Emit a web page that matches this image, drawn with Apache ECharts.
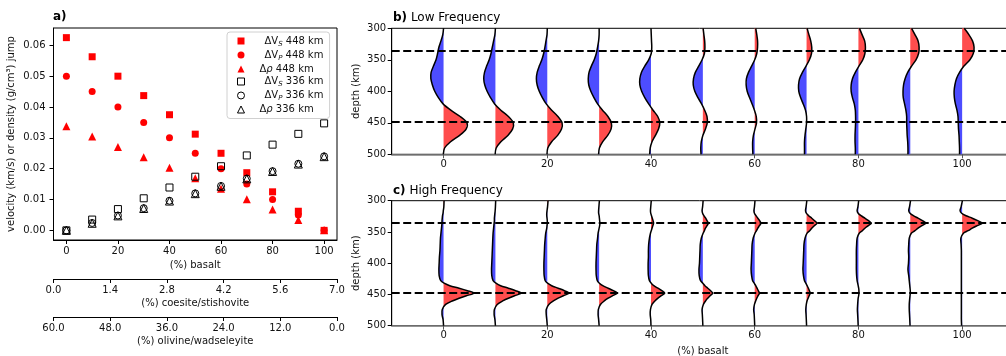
<!DOCTYPE html>
<html>
<head>
<meta charset="utf-8">
<script src="https://cdn.jsdelivr.net/npm/echarts@6/dist/echarts.min.js"></script>
<style>
  html, body { margin: 0; padding: 0; background: #fff; }
  #chart { width: 1006px; height: 356px; }
</style>
</head>
<body>
<div id="chart"></div>
<script>
// panel a: jumps vs basalt fraction
const basalt = [0, 10, 20, 30, 40, 50, 60, 70, 80, 90, 100];
const dVs448 = [0.0625, 0.0563, 0.05, 0.0437, 0.0375, 0.0312, 0.025, 0.0187, 0.0125, 0.0062, 0];
const dVp448 = [0.05, 0.045, 0.04, 0.035, 0.03, 0.025, 0.02, 0.015, 0.01, 0.005, 0];
const dRho448 = [0.0338, 0.0304, 0.027, 0.0237, 0.0203, 0.0169, 0.0135, 0.0101, 0.0068, 0.0034, 0];
const dVs336 = [0, 0.0035, 0.0069, 0.0104, 0.0139, 0.0174, 0.0208, 0.0243, 0.0278, 0.0313, 0.0347];
const dVp336 = [0, 0.0024, 0.0048, 0.0072, 0.0096, 0.012, 0.0144, 0.0168, 0.0192, 0.0216, 0.024];
const dRho336 = [0, 0.0023, 0.0047, 0.0071, 0.0095, 0.0119, 0.0143, 0.0167, 0.0191, 0.0215, 0.0239];

const basaltTicks = [0, 20, 40, 60, 80, 100];
const jumpTicks = [0, 0.01, 0.02, 0.03, 0.04, 0.05, 0.06];

// panels b/c: wiggle traces, amplitude (in % basalt units) at each depth
const lowDepth = [300, 310, 320, 330, 340, 350, 360, 370, 380, 390, 400,
  410, 420, 430, 440, 450, 460, 470, 480, 490, 500];
const lowTraces = [
  [0, -0.15, -0.5, -0.9, -1.15, -1.45, -1.95, -2.4, -2.45, -2.15, -1.7, -1.0, -0.1, 1.4, 3.2, 4.5, 4.35, 3.1, 1.35, 0.2, -0.05],
  [0, -0.1, -0.35, -0.6, -0.85, -1.2, -1.7, -2.1, -2.25, -2.05, -1.6, -0.95, -0.15, 1.05, 2.5, 3.45, 3.3, 2.4, 1.05, 0.15, -0.05],
  [0, -0.05, -0.25, -0.45, -0.7, -1.05, -1.55, -1.95, -2.1, -1.95, -1.55, -0.95, -0.2, 0.85, 2.05, 2.85, 2.75, 2.0, 0.85, 0.1, -0.05],
  [0, 0, -0.1, -0.3, -0.55, -0.95, -1.5, -1.95, -2.1, -2.0, -1.6, -1.0, -0.3, 0.65, 1.7, 2.35, 2.3, 1.65, 0.7, 0.05, -0.1],
  [0, 0.05, 0.1, 0.15, 0.05, -0.45, -1.2, -1.85, -2.15, -2.15, -1.8, -1.2, -0.45, 0.4, 1.3, 1.7, 1.45, 0.85, 0.2, -0.15, -0.25],
  [0.05, 0.2, 0.35, 0.4, 0.3, -0.15, -0.8, -1.45, -1.8, -1.85, -1.55, -0.95, -0.25, 0.35, 0.8, 0.85, 0.5, 0.0, -0.3, -0.4, -0.35],
  [0.2, 0.4, 0.55, 0.55, 0.4, 0.0, -0.6, -1.2, -1.6, -1.65, -1.45, -1.0, -0.5, -0.05, 0.3, 0.35, 0.05, -0.25, -0.4, -0.4, -0.35],
  [0.1, 0.45, 0.8, 1.0, 0.95, 0.55, -0.1, -0.8, -1.35, -1.55, -1.5, -1.15, -0.65, -0.2, 0.0, 0.0, -0.15, -0.3, -0.4, -0.4, -0.4],
  [0.2, 0.7, 1.2, 1.35, 1.25, 0.85, 0.1, -0.6, -1.15, -1.4, -1.4, -1.15, -0.8, -0.6, -0.55, -0.55, -0.6, -0.65, -0.65, -0.6, -0.6],
  [0.25, 0.9, 1.5, 1.7, 1.6, 1.1, 0.25, -0.5, -1.0, -1.3, -1.4, -1.35, -1.1, -0.85, -0.7, -0.7, -0.65, -0.6, -0.5, -0.45, -0.45],
  [0.4, 1.3, 2.0, 2.3, 2.15, 1.5, 0.35, -0.5, -1.1, -1.4, -1.55, -1.5, -1.3, -1.0, -0.8, -0.75, -0.7, -0.6, -0.55, -0.5, -0.5]
];

const highDepth = [300, 310, 316, 320, 324, 328, 332, 336, 340, 344, 348, 352,
  360, 370, 380, 390, 400, 410, 420, 428, 432, 436, 440, 444, 448, 452, 456,
  460, 466, 474, 482, 490, 500];
const highTraces = [
  [0.1, 0.05, -0.05, -0.1, -0.2, -0.25, -0.3, -0.3, -0.35, -0.4, -0.45, -0.5, -0.6, -0.65, -0.7, -0.8, -0.85, -0.9, -0.85, -0.55, 0.1, 1.2, 3.0, 4.6, 5.9, 4.4, 3.0, 1.8, 0.4, -0.25, -0.3, -0.1, 0],
  [0.05, 0, -0.05, -0.1, -0.15, -0.2, -0.2, -0.25, -0.3, -0.35, -0.4, -0.45, -0.5, -0.55, -0.6, -0.65, -0.7, -0.75, -0.7, -0.45, 0.1, 1.0, 2.5, 3.9, 5.0, 3.7, 2.5, 1.5, 0.35, -0.2, -0.25, -0.1, 0],
  [0.15, 0.05, -0.05, -0.1, -0.1, -0.05, 0, 0, -0.05, -0.1, -0.2, -0.3, -0.4, -0.5, -0.55, -0.6, -0.65, -0.65, -0.6, -0.4, 0.05, 0.85, 2.1, 3.3, 4.2, 3.1, 2.1, 1.25, 0.3, -0.2, -0.2, -0.1, 0],
  [0.05, -0.05, -0.1, -0.1, 0, 0.05, 0.1, 0.15, 0.1, 0, -0.1, -0.2, -0.3, -0.45, -0.5, -0.55, -0.6, -0.6, -0.55, -0.35, 0.05, 0.7, 1.75, 2.75, 3.5, 2.6, 1.75, 1.05, 0.25, -0.15, -0.2, -0.1, 0],
  [0.05, -0.05, -0.1, -0.05, 0.1, 0.25, 0.4, 0.5, 0.35, 0.2, 0.05, -0.1, -0.3, -0.45, -0.5, -0.5, -0.55, -0.55, -0.5, -0.3, 0.05, 0.55, 1.35, 2.1, 2.65, 2.0, 1.35, 0.8, 0.2, -0.1, -0.15, -0.05, 0],
  [0.05, -0.05, -0.15, -0.05, 0.2, 0.55, 0.8, 1.05, 0.8, 0.5, 0.3, 0.05, -0.3, -0.5, -0.55, -0.6, -0.65, -0.75, -0.7, -0.45, 0, 0.4, 0.95, 1.5, 1.9, 1.4, 0.95, 0.55, 0.1, -0.15, -0.1, -0.05, 0],
  [0.05, -0.05, -0.15, -0.05, 0.25, 0.6, 0.95, 1.2, 0.9, 0.6, 0.35, 0.05, -0.3, -0.5, -0.55, -0.6, -0.65, -0.7, -0.6, -0.4, -0.1, 0.2, 0.45, 0.7, 0.9, 0.65, 0.4, 0.2, -0.05, -0.2, -0.1, -0.05, 0],
  [0.05, -0.1, -0.2, -0.05, 0.4, 1.0, 1.55, 2.0, 1.5, 1.0, 0.6, 0.1, -0.3, -0.5, -0.55, -0.6, -0.65, -0.7, -0.6, -0.4, -0.15, 0.1, 0.35, 0.55, 0.7, 0.5, 0.3, 0.1, -0.05, -0.15, -0.1, -0.05, 0],
  [0.05, -0.1, -0.25, -0.05, 0.5, 1.25, 1.95, 2.5, 1.9, 1.25, 0.75, 0.15, -0.25, -0.35, -0.4, -0.4, -0.4, -0.4, -0.35, -0.25, -0.15, -0.05, 0.05, 0.1, 0.1, 0.05, -0.05, -0.1, -0.15, -0.2, -0.15, -0.1, -0.05],
  [0.05, -0.15, -0.3, -0.05, 0.6, 1.5, 2.35, 3.0, 2.25, 1.5, 0.9, 0.2, -0.2, -0.3, -0.35, -0.3, -0.35, -0.45, -0.3, -0.2, -0.15, -0.1, -0.05, 0, 0, -0.05, -0.1, -0.15, -0.2, -0.2, -0.15, -0.1, -0.05],
  [0.05, -0.2, -0.4, -0.1, 0.75, 1.95, 3.0, 3.9, 2.9, 1.95, 1.15, 0.25, -0.25, -0.2, -0.15, -0.15, -0.15, -0.15, -0.15, -0.15, -0.15, -0.15, -0.15, -0.15, -0.15, -0.15, -0.15, -0.15, -0.15, -0.15, -0.15, -0.15, -0.1]
];
const discontinuities = [336, 448];

const FONT = "DejaVu Sans";
const RED = "#ff0000";
const FILL_POS = "#ff4d4d";
const FILL_NEG = "#4d4dff";

const legendLabels = {
  "dVs448": "{p1|ΔV}{sub|S}{t| 448 km}",
  "dVp448": "{p1|ΔV}{sub|P}{t| 448 km}",
  "dRho448": "{p2|Δ}{it|ρ}{t| 448 km}",
  "dVs336": "{p1|ΔV}{sub|S}{t| 336 km}",
  "dVp336": "{p1|ΔV}{sub|P}{t| 336 km}",
  "dRho336": "{p2|Δ}{it|ρ}{t| 336 km}",
};

const chart = echarts.init(document.getElementById("chart"), null, { renderer: "canvas" });

function pairs(ys) {
  return basalt.map((x, i) => [x, ys[i]]);
}

// wiggle trace: black line, red fill right of baseline, blue fill left
function traceRenderer(depths, traces) {
  return function (params, api) {
    const x0 = api.value(0);
    const amps = traces[api.value(1)];
    const line = [], pos = [], neg = [];
    for (let k = 0; k < depths.length; k++) {
      const a = amps[k];
      if (k > 0) {
        const ap = amps[k - 1];
        if ((ap > 0 && a < 0) || (ap < 0 && a > 0)) {
          const dc = depths[k - 1] + (depths[k] - depths[k - 1]) * ap / (ap - a);
          const c = api.coord([x0, dc]);
          pos.push(c);
          neg.push(c);
        }
      }
      line.push(api.coord([x0 + a, depths[k]]));
      pos.push(api.coord([x0 + Math.max(a, 0), depths[k]]));
      neg.push(api.coord([x0 + Math.min(a, 0), depths[k]]));
    }
    const bottom = api.coord([x0, depths[depths.length - 1]]);
    const top = api.coord([x0, depths[0]]);
    return {
      type: "group",
      children: [
        { type: "polygon", shape: { points: pos.concat([bottom, top]) }, style: { fill: FILL_POS } },
        { type: "polygon", shape: { points: neg.concat([bottom, top]) }, style: { fill: FILL_NEG } },
        { type: "polyline", shape: { points: line, smooth: 0.3 }, style: { stroke: "#000", lineWidth: 1.5, fill: null } },
      ],
    };
  };
}

const baseAxis = {
  axisLine: { show: true, onZero: false, lineStyle: { color: "#000", width: 1 } },
  axisTick: { show: true, length: 4, lineStyle: { color: "#000" } },
  axisLabel: { color: "#111", fontSize: 10, fontFamily: FONT },
  splitLine: { show: false },
  nameTextStyle: { color: "#111", fontSize: 10, fontFamily: FONT },
  nameLocation: "middle",
  nameMoveOverlap: false,
};

function axis(extra) {
  return Object.assign({}, baseAxis, extra, {
    axisLine: Object.assign({}, baseAxis.axisLine, extra.axisLine || {}),
    axisTick: Object.assign({}, baseAxis.axisTick, extra.axisTick || {}),
    axisLabel: Object.assign({}, baseAxis.axisLabel, extra.axisLabel || {}),
  });
}

const titleRich = {
  b: { fontWeight: "bold", fontSize: 12, color: "#000", fontFamily: FONT },
  n: { fontWeight: "normal", fontSize: 12, color: "#000", fontFamily: FONT },
};

const option = {
  animation: false,
  backgroundColor: "#fff",
  textStyle: { fontFamily: FONT },

  title: [
    { text: "{b|a)}", left: 53, top: 11, padding: 0, textStyle: { rich: titleRich } },
    { text: "{b|b)}{n| Low Frequency}", left: 393, top: 12, padding: 0, textStyle: { rich: titleRich } },
    { text: "{b|c)}{n| High Frequency}", left: 393, top: 185, padding: 0, textStyle: { rich: titleRich } },
  ],

  legend: {
    orient: "vertical",
    align: "left",
    left: 227,
    top: 32,
    padding: [4, 6, 4, 10],
    itemGap: 2.5,
    itemWidth: 7,
    itemHeight: 7,
    selectedMode: false,
    backgroundColor: "rgba(255,255,255,0.8)",
    borderColor: "#d0d0d0",
    borderWidth: 1,
    borderRadius: 3,
    itemStyle: { borderWidth: 1 },
    data: Object.keys(legendLabels),
    formatter: (name) => legendLabels[name],
    textStyle: {
      color: "#111",
      fontSize: 10,
      fontFamily: FONT,
      rich: {
        p1: { fontSize: 10, color: "#111", padding: [0, 0, 0, 15], lineHeight: 13 },
        p2: { fontSize: 10, color: "#111", padding: [0, 0, 0, 10], lineHeight: 13 },
        t: { fontSize: 10, color: "#111", lineHeight: 13 },
        it: { fontSize: 10, color: "#111", fontStyle: "italic", lineHeight: 13 },
        sub: { fontSize: 7, color: "#111", fontStyle: "italic", verticalAlign: "bottom", lineHeight: 9 },
      },
    },
  },

  grid: [
    { left: 53.5, right: 669, top: 28, bottom: 116, show: true, borderColor: "#000", borderWidth: 1,
      containLabel: false, outerBoundsMode: "none" },
    { left: 391.7, right: -8, top: 28.3, bottom: 201.7, show: true, borderColor: "#000", borderWidth: 1,
      containLabel: false, outerBoundsMode: "none" },
    { left: 391.7, right: -8, top: 200.7, bottom: 30.3, show: true, borderColor: "#000", borderWidth: 1,
      containLabel: false, outerBoundsMode: "none" },
  ],

  xAxis: [
    axis({ gridIndex: 0, type: "value", position: "bottom", min: -5, max: 105,
      name: "(%) basalt", nameGap: 20,
      axisTick: { customValues: basaltTicks },
      axisLabel: { customValues: basaltTicks, margin: 6 } }),
    axis({ gridIndex: 0, type: "value", position: "bottom", offset: 39, min: 0, max: 7, interval: 1.4,
      name: "(%) coesite/stishovite", nameGap: 19,
      axisLabel: { margin: 6, formatter: (v) => v.toFixed(1) } }),
    axis({ gridIndex: 0, type: "value", position: "bottom", offset: 77, min: 0, max: 60, interval: 12,
      inverse: true, name: "(%) olivine/wadseleyite", nameGap: 19,
      axisLabel: { margin: 6, formatter: (v) => v.toFixed(1) } }),
    axis({ gridIndex: 1, type: "value", position: "bottom", min: -10, max: 110,
      axisLine: { lineStyle: { color: "#808080", width: 1.5 } },
      axisTick: { customValues: basaltTicks, lineStyle: { color: "#555" } },
      axisLabel: { customValues: basaltTicks, margin: 5 } }),
    axis({ gridIndex: 2, type: "value", position: "bottom", min: -10, max: 110,
      name: "(%) basalt", nameGap: 21,
      axisLine: { lineStyle: { color: "#808080", width: 1.5 } },
      axisTick: { customValues: basaltTicks, lineStyle: { color: "#555" } },
      axisLabel: { customValues: basaltTicks, margin: 4.5 } }),
  ],

  yAxis: [
    axis({ gridIndex: 0, type: "value", min: -0.003125, max: 0.065625,
      name: "velocity (km/s) or density (g/cm³) jump", nameGap: 37,
      axisTick: { customValues: jumpTicks },
      axisLabel: { customValues: jumpTicks, margin: 8, formatter: (v) => v.toFixed(2) } }),
    axis({ gridIndex: 1, type: "value", min: 300, max: 500, interval: 50, inverse: true,
      name: "depth (km)", nameGap: 30,
      axisLabel: { margin: 5.5 } }),
    axis({ gridIndex: 2, type: "value", min: 300, max: 500, interval: 50, inverse: true,
      name: "depth (km)", nameGap: 30,
      axisLabel: { margin: 5.5 } }),
  ],

  series: [
    { name: "dVs448", type: "scatter", xAxisIndex: 0, yAxisIndex: 0, data: pairs(dVs448),
      symbol: "rect", symbolSize: 7, itemStyle: { color: RED, opacity: 1 } },
    { name: "dVp448", type: "scatter", xAxisIndex: 0, yAxisIndex: 0, data: pairs(dVp448),
      symbol: "circle", symbolSize: 7, itemStyle: { color: RED, opacity: 1 } },
    { name: "dRho448", type: "scatter", xAxisIndex: 0, yAxisIndex: 0, data: pairs(dRho448),
      symbol: "triangle", symbolSize: 8, itemStyle: { color: RED, opacity: 1 } },
    { name: "dVs336", type: "scatter", xAxisIndex: 0, yAxisIndex: 0, data: pairs(dVs336),
      symbol: "rect", symbolSize: 7, itemStyle: { color: "rgba(0,0,0,0)", borderColor: "#000", borderWidth: 1, opacity: 1 } },
    { name: "dVp336", type: "scatter", xAxisIndex: 0, yAxisIndex: 0, data: pairs(dVp336),
      symbol: "circle", symbolSize: 7, itemStyle: { color: "rgba(0,0,0,0)", borderColor: "#000", borderWidth: 1, opacity: 1 } },
    { name: "dRho336", type: "scatter", xAxisIndex: 0, yAxisIndex: 0, data: pairs(dRho336),
      symbol: "triangle", symbolSize: 8, itemStyle: { color: "rgba(0,0,0,0)", borderColor: "#000", borderWidth: 1, opacity: 1 } },

    // b) low frequency traces
    { type: "custom", xAxisIndex: 3, yAxisIndex: 1, encode: { x: 0, y: 1 },
      data: basalt.map((b, i) => [b, i]), renderItem: traceRenderer(lowDepth, lowTraces), z: 2 },
    { type: "line", xAxisIndex: 3, yAxisIndex: 1, data: [], z: 5,
      markLine: { silent: true, symbol: "none", label: { show: false },
        lineStyle: { color: "#000", type: [8, 3.5], width: 2 },
        data: discontinuities.map((d) => ({ yAxis: d })) } },

    // c) high frequency traces
    { type: "custom", xAxisIndex: 4, yAxisIndex: 2, encode: { x: 0, y: 1 },
      data: basalt.map((b, i) => [b, i]), renderItem: traceRenderer(highDepth, highTraces), z: 2 },
    { type: "line", xAxisIndex: 4, yAxisIndex: 2, data: [], z: 5,
      markLine: { silent: true, symbol: "none", label: { show: false },
        lineStyle: { color: "#000", type: [8, 3.5], width: 2 },
        data: discontinuities.map((d) => ({ yAxis: d })) } },
  ],
};

chart.setOption(option);
</script>
</body>
</html>
